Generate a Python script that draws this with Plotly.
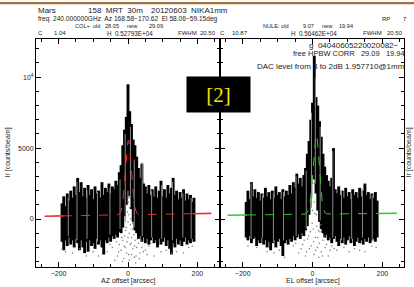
import plotly.graph_objects as go

# ---------------- data ----------------
AZ_OFF = list(range(-190, 195, 5))
AZ_HI = [1100, 1600, 900, 1800, 1300, 2000, 1500, 2300, 1700, 2900, 1900, 2600, 1600, 2200, 1500, 2400,
         1700, 2100, 1400, 2300, 1800, 2000, 1500, 2600, 1700, 2200, 1900, 2500, 1800, 2300, 2100, 2700,
         2400, 3300, 3800, 5200, 6300, 7200, 9500, 7600, 6700, 5600, 5200, 4400, 3600, 2900, 3900, 2500,
         2300, 1800, 2400, 1700, 2100, 1600, 2300, 1500, 2000, 2700, 1600, 2100, 1500, 2400, 1800, 2200,
         2900, 1700, 2000, 1400, 1900, 1500, 2100, 1300, 1800, 1400, 1700, 1200, 1500]
AZ_LO = [-1600, -2200, -1500, -1900, -1300, -1800, -1500, -2000, -1400, -1700, -2200, -1500, -2000, -2400,
         -1600, -2300, -1500, -1900, -1700, -2100, -1400, -1800, -1500, -2000, -2500, -1500, -1700, -1300,
         -1600, -1200, -1400, -1100, -1300, -900, -1000, -600, 200, 1000, 2000, 1600, 700, -200, -800, -1000,
         -1400, -1200, -1600, -1300, -1700, -1400, -1800, -1500, -1300, -1700, -1500, -2000, -1400, -1800,
         -1600, -1300, -1900, -1500, -2100, -2500, -1700, -2000, -1400, -1800, -1500, -1900, -1600, -1300,
         -1800, -1500, -1700, -1400, -1600]

EL_OFF = list(range(-190, 190, 5))
EL_HI = [1200, 2000, 1400, 2600, 1600, 2100, 1500, 1900, 1300, 1800, 1500, 2200, 1600, 1900, 1400, 2000,
         1500, 2300, 1700, 1900, 1400, 2100, 1600, 2000, 1700, 2400, 1800, 2600, 2200, 3200, 2500, 2900,
         2300, 3100, 3600, 4600, 5500, 7000, 8200, 11500, 8600, 8000, 6900, 5800, 4600, 3700, 3100, 2700,
         2300, 2900, 5000, 2100, 1800, 2300, 1700, 2000, 1500, 2200, 1600, 1900, 1400, 2100, 1700, 1900,
         1500, 2200, 1600, 2000, 2500, 1700, 1900, 1400, 1800, 1500, 1900, 1300]
EL_LO = [-1300, -1500, -1200, -1700, -1400, -1300, -1900, -1500, -1700, -1300, -1800, -1500, -2000, -1600,
         -2200, -1700, -1500, -2000, -1600, -1400, -1900, -2600, -1700, -1500, -1800, -1400, -1600, -1200,
         -1500, -1300, -1100, -1400, -1000, -1200, -800, -500, 300, 1500, 3000, 2800, 1800, 600, -200, -700,
         -1000, -1300, -1100, -1500, -1300, -1700, -1400, -1200, -1600, -1900, -1400, -1700, -1300, -1800,
         -1500, -1200, -1700, -1400, -1900, -1600, -1300, -1700, -1500, -1800, -1400, -1600, -1300, -1700,
         -1500, -1400, -1600, -1300]

AZ_GRAY_X = [-172, -147, -118, -88, -52, -23, -8, 7, 18, 41, 68, 97, 128, 158, 182]
AZ_GRAY_HI = [1500, 2600, 2000, 1900, 2200, 2800, 6000, 6500, 4200, 4000, 2000, 2400, 2600, 1800, 1500]
AZ_GRAY_LO = [-1200, -1500, -1400, -1600, -1100, -700, -200, 800, -600, -1200, -1300, -1400, -1500, -1300, -1400]

EL_GRAY_X = [-176, -143, -112, -83, -47, -18, -3, 8, 22, 58, 83, 112, 143, 171]
EL_GRAY_HI = [2500, 1700, 1800, 1900, 3000, 3400, 7500, 10000, 6500, 4800, 2000, 1800, 2100, 1700]
EL_GRAY_LO = [-1400, -1300, -1600, -1500, -1200, -700, 800, 2500, -100, -1300, -1500, -1400, -1300, -1500]

AZ_DOT_X = [-190, -180, -140, -120, -100, -60, -45, -30, -25, -20, -15, -12, -10, -8, -5, -3, -2, 0, 1, 2,
            3, 4, 5, 6, 8, 10, 12, 14, 16, 18, 20, 22, 25, 30, 35, 40, 50, 60, 75, 110, 140, 160, 175, 185,
            -52, -38, -33, -27, -18, -16, -11, -7, -4, -1, 0, 2, 4, 7, 9, 11, 13, 17, 19, 23, 27, 32, 38, 44,
            55, 65, -160, -85, 95, 125]
AZ_DOT_Y = [-2100, -2300, -2100, -2600, -2300, -2300, -2000, -2600, -1800, -2200, -1500, -2800, -1200, -2000,
            -600, -1600, 500, -200, 1200, -2500, 300, -1000, 800, -1800, 0, -1300, -700, -2100, -400, -2700,
            -1500, -3100, -2000, -1700, -2400, -2000, -2200, -1900, -2600, -2200, -2300, -2400, -2000, -1900,
            -1800, -2900, -1600, -2300, -1300, -3000, -1900, -800, -2400, 1000, -1300, 1500, -2900, -400,
            -1700, -2500, -300, -1100, -1900, -2600, -1400, -2800, -1500, -2300, -2500, -1700, -2400, -2600,
            -2300, -2400]

EL_DOT_X = [-185, -160, -130, -95, -80, -55, -40, -28, -20, -14, -9, -6, -3, -1, 1, 3, 5, 7, 9, 12, 15, 18,
            21, 25, 30, 36, 45, 55, 70, 90, 120, 150, 170, 182,
            -48, -33, -24, -17, -11, -4, 0, 2, 4, 6, 8, 11, 14, 17, 20, 24, 28, 33, 40, 50, 62, -110, 105, 135]
EL_DOT_Y = [-1900, -2000, -2300, -2200, -2700, -1900, -2400, -1800, -2600, -1400, -2100, -900, 1800, -300,
            2500, -1600, 1200, 400, -2200, -500, -1300, -2700, -900, -2300, -1500, -2000, -2600, -1900, -2200,
            -2000, -2100, -2300, -1900, -2000,
            -1700, -2100, -1500, -2300, -1200, -1900, 600, -700, -2500, 1900, -1300, 300, -2000, -800, -1700,
            -400, -2600, -1200, -1800, -2200, -2100, -2400, -2300, -2200]

AZ_MODEL_X = [-187, -60, -40, -30, -25, -20, -17.5, -15, -12.5, -10, -7.5, -5, -2.5, 0, 2.5, 5, 7.5, 10,
              12.5, 15, 17.5, 20, 22.5, 25, 30, 40, 60, 187]
AZ_MODEL_Y = [222, 275, 283, 296, 350, 577, 840, 1261, 1871, 2658, 3560, 4447, 5160, 5542, 5506, 5063, 4312,
              3413, 2525, 1766, 1191, 801, 562, 430, 333, 317, 325, 378]
AZ_BASE_L_X, AZ_BASE_L_Y = [-240, -187], [200, 222]
AZ_BASE_R_X, AZ_BASE_R_Y = [187, 240], [378, 400]

EL_MODEL_X = [-187, -60, -40, -20, -10, -5, -2.5, 0, 2.5, 5, 7.5, 10, 12.5, 15, 17.5, 20, 22.5, 25, 27.5,
              30, 35, 40, 60, 187]
EL_MODEL_Y = [286, 323, 328, 344, 656, 1412, 2075, 2930, 3898, 4839, 5580, 5961, 5892, 5389, 4569, 3604,
              2660, 1860, 1259, 854, 471, 373, 357, 394]
EL_BASE_L_X, EL_BASE_L_Y = [-243, -187], [270, 286]
EL_BASE_R_X, EL_BASE_R_Y = [187, 242], [394, 410]

X_TICKS = [-200, 0, 200]
X_TICK_TEXT = ["\u2212200", "0", "200"]
Y_TICKS = [0, 5000, 10000]
Y_TICK_TEXT = ["0", "5000", "10<sup>4</sup>"]
Y_MINOR = list(range(-3000, 13000, 1000))

# ---------------- figure ----------------
W, H = 414, 287
ML, MR, MT, MB = 36, 10, 39, 15
PW, PH = W - ML - MR, H - MT - MB


def px(x):
    return (x - ML) / PW


def py(y):
    return (H - MB - y) / PH


def segs(xs, lo, hi):
    X, Y = [], []
    for x, a, b in zip(xs, lo, hi):
        X += [x, x, None]
        Y += [a, b, None]
    return X, Y


fig = go.Figure()

for xa, ya, xs, lo, hi, gx, glo, ghi, dx, dy, mx, my, blx, bly, brx, bry, col in [
    ("x", "y", AZ_OFF, AZ_LO, AZ_HI, AZ_GRAY_X, AZ_GRAY_LO, AZ_GRAY_HI, AZ_DOT_X, AZ_DOT_Y,
     AZ_MODEL_X, AZ_MODEL_Y, AZ_BASE_L_X, AZ_BASE_L_Y, AZ_BASE_R_X, AZ_BASE_R_Y, "#e8332d"),
    ("x2", "y2", EL_OFF, EL_LO, EL_HI, EL_GRAY_X, EL_GRAY_LO, EL_GRAY_HI, EL_DOT_X, EL_DOT_Y,
     EL_MODEL_X, EL_MODEL_Y, EL_BASE_L_X, EL_BASE_L_Y, EL_BASE_R_X, EL_BASE_R_Y, "#2ecc2e"),
]:
    X, Y = segs(xs, lo, hi)
    fig.add_trace(go.Scatter(x=X, y=Y, mode="lines", line=dict(color="black", width=2.9),
                             xaxis=xa, yaxis=ya, hoverinfo="skip"))
    X, Y = segs(gx, glo, ghi)
    fig.add_trace(go.Scatter(x=X, y=Y, mode="lines", line=dict(color="#8a8a8a", width=1),
                             xaxis=xa, yaxis=ya, hoverinfo="skip"))
    fig.add_trace(go.Scatter(x=dx, y=dy, mode="markers", marker=dict(color="#777", size=1.5),
                             xaxis=xa, yaxis=ya, hoverinfo="skip"))
    fig.add_trace(go.Scatter(x=mx, y=my, mode="lines", line=dict(color=col, width=1, dash="dash"),
                             xaxis=xa, yaxis=ya, hoverinfo="skip"))
    for bx, by in [(blx, bly), (brx, bry)]:
        fig.add_trace(go.Scatter(x=bx, y=by, mode="lines", line=dict(color=col, width=1.6),
                                 xaxis=xa, yaxis=ya, hoverinfo="skip"))

axis_common = dict(showline=True, linecolor="black", linewidth=1, mirror="ticks", ticks="inside",
                   tickcolor="black", showgrid=False, zeroline=False,
                   tickfont=dict(family="Liberation Sans", size=7, color="#222"))

fig.update_layout(
    width=W, height=H, margin=dict(l=ML, r=MR, t=MT, b=MB),
    paper_bgcolor="white", plot_bgcolor="white", showlegend=False,
    xaxis=dict(domain=[0, 0.5], range=[-265, 265], anchor="y", tickmode="array", tickvals=X_TICKS,
               ticktext=X_TICK_TEXT, ticklen=5,
               minor=dict(tickmode="linear", tick0=0, dtick=50, ticklen=3, ticks="inside", tickcolor="black"),
               **axis_common),
    xaxis2=dict(domain=[0.5, 1], range=[-265, 262], anchor="y2", tickmode="array", tickvals=X_TICKS,
                ticktext=X_TICK_TEXT, ticklen=5,
                minor=dict(tickmode="linear", tick0=0, dtick=50, ticklen=3, ticks="inside", tickcolor="black"),
                **axis_common),
    yaxis=dict(range=[-3380, 12690], anchor="x", tickmode="array", tickvals=Y_TICKS, ticktext=Y_TICK_TEXT,
               ticklen=5, minor=dict(tickmode="array", tickvals=Y_MINOR, ticklen=3, ticks="inside",
                                     tickcolor="black"),
               **axis_common),
    yaxis2=dict(range=[-3380, 12690], anchor="x2", side="right", tickmode="array", tickvals=Y_TICKS,
                showticklabels=False, ticklen=5,
                minor=dict(tickmode="array", tickvals=Y_MINOR, ticklen=3, ticks="inside", tickcolor="black"),
                **axis_common),
)

# brown strip at the very top
fig.add_shape(type="rect", xref="paper", yref="paper", x0=px(0), x1=px(W), y0=py(3.6), y1=py(1.2),
              fillcolor="#a86f3c", line=dict(width=0))

FONT = "Liberation Sans"


def txt(x, y, s, size, anchor="left", color="#222", family=FONT, angle=0):
    fig.add_annotation(x=px(x), y=py(y), xref="paper", yref="paper", text=s, showarrow=False,
                       xanchor=anchor, yanchor="middle", textangle=angle, borderpad=0,
                       font=dict(family=family, size=size, color=color))


# header lines
txt(37, 10, "Mars", 8)
txt(87, 10, "158  MRT  30m", 8)
txt(150, 10, "20120603  NIKA1mm", 8)
txt(37, 18.5, "freq. 240.000000GHz  Az 168.58\u2212170.62  El 58.06\u221259.15deg", 6.6)
txt(381, 18.5, "RP", 6)
txt(402, 18.5, "7", 6)
txt(74, 25.5, "COL+: old", 5.6)
txt(104, 25.5, "28.05", 5.6)
txt(126, 25.5, "new", 5.6)
txt(148, 25.5, "29.09", 5.6)
txt(262, 25.5, "NULE: old", 5.6)
txt(302, 25.5, "9.07", 5.6)
txt(321, 25.5, "new", 5.6)
txt(338, 25.5, "19.94", 5.6)
txt(37, 33, "C", 6)
txt(53, 33, "1.04", 6)
txt(106, 33, "H  0.52793E+04", 6.3)
txt(177, 33, "FWHM", 6)
txt(199, 33, "20.50", 6)
txt(219, 33, "C", 6)
txt(231, 33, "10.87", 6)
txt(290, 33, "H  0.56462E+04", 6.3)
txt(362, 33, "FWHM", 6)
txt(386, 33, "20.50", 6)

# text inside right panel
txt(400, 45.5, "g  04040605220020082\u2212", 8, anchor="right")
txt(406, 53.5, "free HPBW CORR   29.09   19.94", 7.5, anchor="right")
txt(406, 67, "DAC level from 3 to 2dB 1.957710@1mm", 8, anchor="right")

# axis titles
txt(8, 155, "Ir [counts/beam]", 7, anchor="center", angle=-90)
txt(409, 155, "Ir [counts/beam]", 7, anchor="center", angle=-90)
txt(128, 286, "AZ offset [arcsec]", 7, anchor="center")
txt(313, 286, "EL offset [arcsec]", 7, anchor="center")

# yellow label box
fig.add_annotation(x=px(218.5), y=py(95.5), xref="paper", yref="paper", text="[2]", showarrow=False,
                   xanchor="center", yanchor="middle", width=63, height=35, bgcolor="black",
                   borderpad=0, font=dict(family="Liberation Serif", size=21, color="#f0e400"))

fig.write_html("out.html", config={"displayModeBar": False},
               post_script="document.body.style.margin='0px';document.body.style.overflow='hidden';")
